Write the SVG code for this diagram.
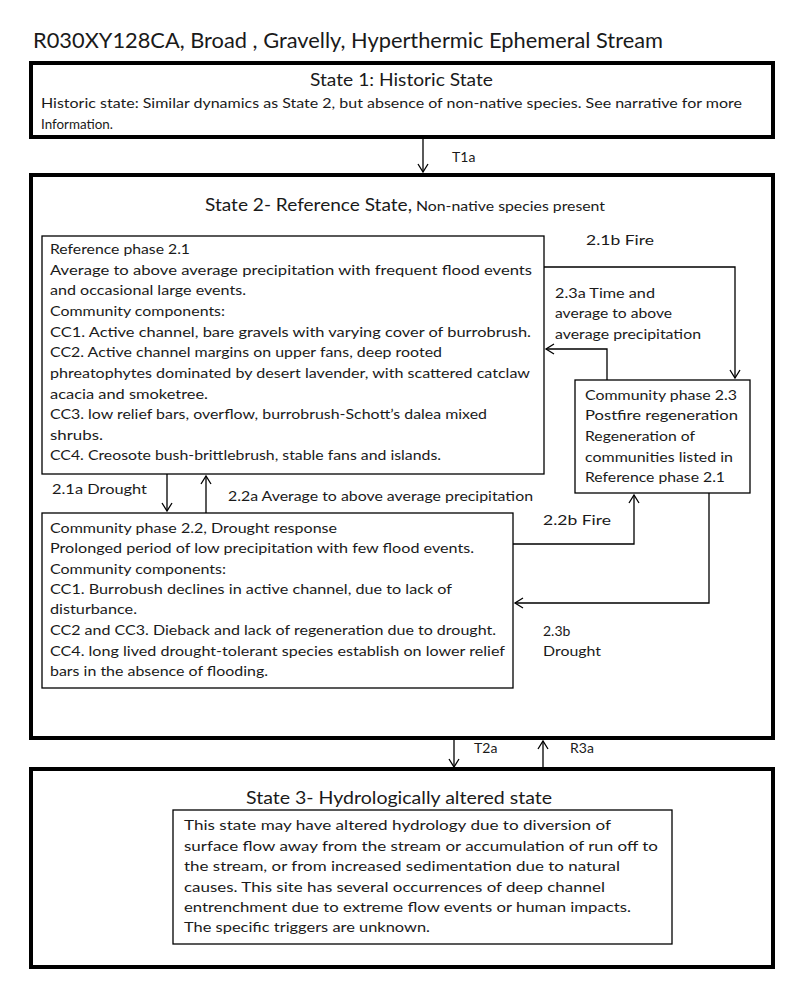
<svg xmlns="http://www.w3.org/2000/svg" width="800" height="985" viewBox="0 0 800 985">
<style>
text{font-family:Lato,"Liberation Sans",sans-serif;fill:#1a1a1a}
.t{font-size:14px}
.h{font-size:16.5px}
.state{fill:#fff;stroke:#000;stroke-width:4}
.box{fill:#fff;stroke:#000;stroke-width:1.3}
.c{fill:none;stroke:#000;stroke-width:1.3}
</style>
<defs>
<marker id="a" markerWidth="12" markerHeight="12" refX="9" refY="6" orient="auto" markerUnits="userSpaceOnUse">
<path d="M1,1 L9,6 L1,11" fill="none" stroke="#000" stroke-width="1.3"/>
</marker>
</defs>
<rect width="800" height="985" fill="#fff"/>
<text x="33" y="48" font-size="22" textLength="630" lengthAdjust="spacingAndGlyphs">R030XY128CA, Broad , Gravelly, Hyperthermic Ephemeral Stream</text>

<g id="state1">
<rect class="state" x="31" y="63" width="742" height="74"/>
<text class="h" x="310" y="86" textLength="183" lengthAdjust="spacingAndGlyphs">State 1: Historic State</text>
<text class="t" x="41" y="108" textLength="701" lengthAdjust="spacingAndGlyphs">Historic state: Similar dynamics as State 2, but absence of non-native species. See narrative for more</text>
<text class="t" x="41" y="129" textLength="72" lengthAdjust="spacingAndGlyphs">Information.</text>
</g>

<g id="state2">
<rect class="state" x="31" y="175" width="742" height="563"/>
<text x="205" y="211"><tspan font-size="17" textLength="207" lengthAdjust="spacingAndGlyphs">State 2- Reference State,</tspan><tspan font-size="13.5" x="416" textLength="189" lengthAdjust="spacingAndGlyphs">Non-native species present</tspan></text>
</g>

<g id="phase21">
<rect class="box" x="42" y="236" width="502" height="238"/>
<text class="t" x="50" y="254" textLength="140" lengthAdjust="spacingAndGlyphs">Reference phase 2.1</text>
<text class="t" x="50" y="275" textLength="482" lengthAdjust="spacingAndGlyphs">Average to above average precipitation with frequent  flood events</text>
<text class="t" x="50" y="295" textLength="196" lengthAdjust="spacingAndGlyphs">and occasional large events.</text>
<text class="t" x="50" y="316" textLength="175" lengthAdjust="spacingAndGlyphs">Community components:</text>
<text class="t" x="50" y="337" textLength="481" lengthAdjust="spacingAndGlyphs">CC1. Active channel,  bare gravels with varying cover of burrobrush.</text>
<text class="t" x="50" y="357" textLength="392" lengthAdjust="spacingAndGlyphs">CC2. Active channel margins on upper fans, deep rooted</text>
<text class="t" x="50" y="378" textLength="480" lengthAdjust="spacingAndGlyphs">phreatophytes dominated  by desert lavender, with scattered catclaw</text>
<text class="t" x="50" y="399" textLength="158" lengthAdjust="spacingAndGlyphs">acacia and  smoketree.</text>
<text class="t" x="50" y="419" textLength="437" lengthAdjust="spacingAndGlyphs">CC3. low relief bars, overflow, burrobrush-Schott’s dalea mixed</text>
<text class="t" x="50" y="440" textLength="53" lengthAdjust="spacingAndGlyphs">shrubs.</text>
<text class="t" x="50" y="460" textLength="391" lengthAdjust="spacingAndGlyphs">CC4. Creosote bush-brittlebrush, stable fans and islands.</text>
</g>

<g id="phase23">
<rect class="box" x="575" y="380" width="175" height="113"/>
<text class="t" x="585" y="400" textLength="152" lengthAdjust="spacingAndGlyphs">Community phase 2.3</text>
<text class="t" x="585" y="420" textLength="153" lengthAdjust="spacingAndGlyphs">Postfire regeneration</text>
<text class="t" x="585" y="441" textLength="110" lengthAdjust="spacingAndGlyphs">Regeneration of</text>
<text class="t" x="585" y="462" textLength="148" lengthAdjust="spacingAndGlyphs">communities listed in</text>
<text class="t" x="585" y="482" textLength="140" lengthAdjust="spacingAndGlyphs">Reference phase 2.1</text>
</g>

<g id="phase22">
<rect class="box" x="42" y="513" width="471" height="175"/>
<text class="t" x="50" y="533" textLength="287" lengthAdjust="spacingAndGlyphs">Community phase 2.2, Drought response</text>
<text class="t" x="50" y="553" textLength="424" lengthAdjust="spacingAndGlyphs">Prolonged period of low precipitation with few flood events.</text>
<text class="t" x="50" y="574" textLength="176" lengthAdjust="spacingAndGlyphs">Community components:</text>
<text class="t" x="50" y="594" textLength="402" lengthAdjust="spacingAndGlyphs">CC1.  Burrobush declines in active channel, due to lack of</text>
<text class="t" x="50" y="614" textLength="87" lengthAdjust="spacingAndGlyphs">disturbance.</text>
<text class="t" x="50" y="635" textLength="446" lengthAdjust="spacingAndGlyphs">CC2 and CC3.  Dieback and lack of regeneration due to drought.</text>
<text class="t" x="50" y="656" textLength="455" lengthAdjust="spacingAndGlyphs">CC4. long lived drought-tolerant  species establish on lower relief</text>
<text class="t" x="50" y="676" textLength="218" lengthAdjust="spacingAndGlyphs">bars in the absence of flooding.</text>
</g>

<g id="state3">
<rect class="state" x="31" y="769" width="742" height="198"/>
<text x="246" y="804" font-size="17" textLength="306" lengthAdjust="spacingAndGlyphs">State 3- Hydrologically altered state</text>
<rect class="box" x="173" y="810" width="499" height="134"/>
<text class="t" x="184" y="830" textLength="427" lengthAdjust="spacingAndGlyphs">This state may have altered hydrology  due to diversion of</text>
<text class="t" x="184" y="851" textLength="474" lengthAdjust="spacingAndGlyphs">surface flow  away from the  stream or accumulation of run off to</text>
<text class="t" x="184" y="871" textLength="436" lengthAdjust="spacingAndGlyphs">the stream, or from increased sedimentation due to natural</text>
<text class="t" x="184" y="892" textLength="421" lengthAdjust="spacingAndGlyphs">causes. This site has several occurrences of deep channel</text>
<text class="t" x="184" y="912" textLength="447" lengthAdjust="spacingAndGlyphs">entrenchment due to extreme flow events or human impacts.</text>
<text class="t" x="184" y="932" textLength="246" lengthAdjust="spacingAndGlyphs">The specific triggers are unknown.</text>
</g>

<g id="connectors">
<path class="c" d="M423,139 L423,172" marker-end="url(#a)"/>
<path class="c" d="M544,267 L735,267 L735,378" marker-end="url(#a)"/>
<path class="c" d="M607,380 L607,349 L546,349" marker-end="url(#a)"/>
<path class="c" d="M167,474 L167,511" marker-end="url(#a)"/>
<path class="c" d="M206,513 L206,476" marker-end="url(#a)"/>
<path class="c" d="M513,544 L634,544 L634,495" marker-end="url(#a)"/>
<path class="c" d="M709,493 L709,603 L515,603" marker-end="url(#a)"/>
<path class="c" d="M454,740 L454,767" marker-end="url(#a)"/>
<path class="c" d="M543,768 L543,741" marker-end="url(#a)"/>
<text class="t" x="452" y="162">T1a</text>
<text class="t" x="586" y="245" textLength="68" lengthAdjust="spacingAndGlyphs">2.1b Fire</text>
<text class="t" x="555" y="298" textLength="100" lengthAdjust="spacingAndGlyphs">2.3a Time and</text>
<text class="t" x="555" y="318" textLength="117" lengthAdjust="spacingAndGlyphs">average to above</text>
<text class="t" x="555" y="339" textLength="146" lengthAdjust="spacingAndGlyphs">average precipitation</text>
<text class="t" x="52" y="494" textLength="95" lengthAdjust="spacingAndGlyphs">2.1a Drought</text>
<text class="t" x="228" y="501" textLength="305" lengthAdjust="spacingAndGlyphs">2.2a Average to above average precipitation</text>
<text class="t" x="543" y="525" textLength="68" lengthAdjust="spacingAndGlyphs">2.2b Fire</text>
<text class="t" x="543" y="636">2.3b</text>
<text class="t" x="543" y="656" textLength="58" lengthAdjust="spacingAndGlyphs">Drought</text>
<text class="t" x="474" y="753">T2a</text>
<text class="t" x="570" y="753">R3a</text>
</g>
</svg>
